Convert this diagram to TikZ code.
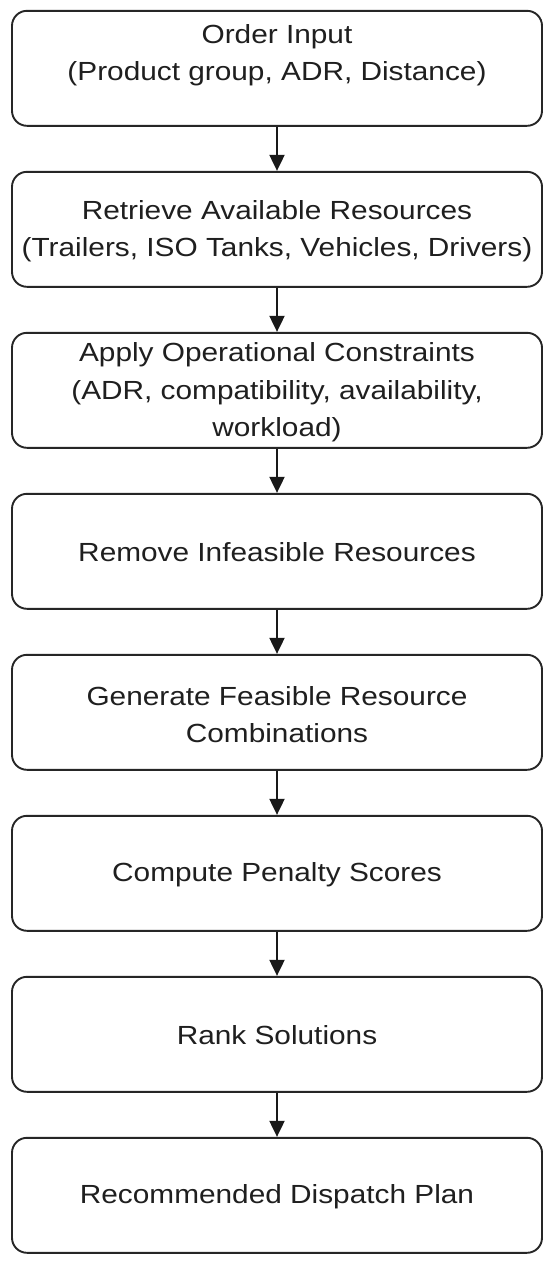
\documentclass[tikz,border=0pt]{standalone}
\usepackage{fontspec}
\setmainfont{Liberation Sans}
\usetikzlibrary{arrows.meta}
\begin{document}
\begin{tikzpicture}[x=1pt,y=-1pt,
  stepbox/.style={draw=black!85, line width=1.9pt, rounded corners=15pt,
    minimum width=530pt, minimum height=115pt, inner sep=0pt, fill=white},
  steptext/.style={align=center, inner sep=0pt, yscale=0.88, transform shape,
    font=\fontsize{29.8pt}{42.3pt}\selectfont, text=black!88},
  flow/.style={draw=black!90, line width=2pt, -{Triangle[length=16pt,width=15pt]}}]
\useasboundingbox (0,0) rectangle (550,1262);
\fill[white] (0,0) rectangle (550,1262);
\foreach \i in {1,...,8}{
  \node[stepbox] (b\i) at (277, {68.3+161*(\i-1)}) {};
}
\node[steptext] (t1) at ([yshift=13pt]b1.center) {Order Input\\(Product group, ADR, Distance)};
\node[steptext] (t2) at ([yshift=-2pt]b2.center) {Retrieve Available Resources\\(Trailers, ISO Tanks, Vehicles, Drivers)};
\node[steptext] (t3) at ([yshift=-2pt]b3.center) {Apply Operational Constraints\\(ADR, compatibility, availability,\\workload)};
\node[steptext] (t4) at ([yshift=-1pt]b4.center) {Remove Infeasible Resources};
\node[steptext] (t5) at ([yshift=-2pt]b5.center) {Generate Feasible Resource\\Combinations};
\node[steptext] (t6) at ([yshift=-1pt]b6.center) {Compute Penalty Scores};
\node[steptext] (t7) at ([yshift=-1pt]b7.center) {Rank Solutions};
\node[steptext] (t8) at ([yshift=-1pt]b8.center) {Recommended Dispatch Plan};
\foreach \i [evaluate=\i as \j using int(\i+1)] in {1,...,7}{
  \draw[flow] (b\i.south) -- (b\j.north);
}
\end{tikzpicture}
\end{document}
